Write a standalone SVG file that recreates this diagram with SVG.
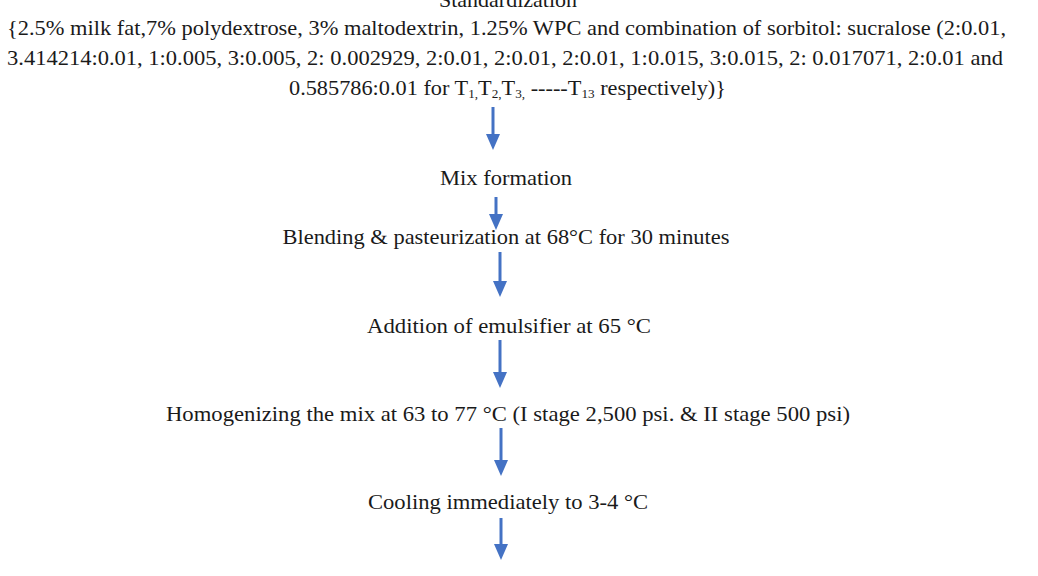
<svg xmlns="http://www.w3.org/2000/svg" width="1038" height="576" viewBox="0 0 1038 576">
<defs>
<style>
text{font-family:"Liberation Serif","Times New Roman",serif;font-size:22px;fill:#1a1a1a}
.sub{font-size:13px}
.ln{stroke:#4472C4;stroke-width:3;fill:none}
.hd{fill:#4472C4}
</style>
</defs>
<rect width="1038" height="576" fill="#ffffff"/>
<g id="standardization">
<text x="508" y="7" text-anchor="middle">Standardization</text>
<text x="7" y="35" textLength="999" lengthAdjust="spacingAndGlyphs">{2.5% milk fat,7% polydextrose, 3% maltodextrin, 1.25% WPC and combination of sorbitol: sucralose (2:0.01,</text>
<text x="7" y="65" textLength="996" lengthAdjust="spacingAndGlyphs">3.414214:0.01, 1:0.005, 3:0.005, 2: 0.002929, 2:0.01, 2:0.01, 2:0.01, 1:0.015, 3:0.015, 2: 0.017071, 2:0.01 and</text>
<text x="289" y="95" textLength="437" lengthAdjust="spacingAndGlyphs">0.585786:0.01 for T<tspan class="sub" dy="3">1,</tspan><tspan dy="-3">T</tspan><tspan class="sub" dy="3">2,</tspan><tspan dy="-3">T</tspan><tspan class="sub" dy="3">3,</tspan><tspan dy="-3"> -----T</tspan><tspan class="sub" dy="3">13</tspan><tspan dy="-3"> respectively)}</tspan></text>
</g>
<g id="mix">
<text x="506" y="185" text-anchor="middle" textLength="132" lengthAdjust="spacingAndGlyphs">Mix formation</text>
</g>
<g id="blending">
<text x="506" y="244" text-anchor="middle" textLength="447" lengthAdjust="spacingAndGlyphs">Blending &amp; pasteurization at 68°C for 30 minutes</text>
</g>
<g id="addition">
<text x="509" y="333" text-anchor="middle" textLength="284" lengthAdjust="spacingAndGlyphs">Addition of emulsifier at 65 °C</text>
</g>
<g id="homogenizing">
<text x="508" y="421" text-anchor="middle" textLength="684" lengthAdjust="spacingAndGlyphs">Homogenizing the mix at 63 to 77 °C (I stage 2,500 psi. &amp; II stage 500 psi)</text>
</g>
<g id="cooling">
<text x="508" y="509" text-anchor="middle" textLength="280" lengthAdjust="spacingAndGlyphs">Cooling immediately to 3-4 °C</text>
</g>
<g id="connectors">
<line class="ln" x1="493" y1="107" x2="493" y2="136"/><polygon class="hd" points="486,134 500,134 493,150"/>
<line class="ln" x1="496" y1="197" x2="496" y2="216"/><polygon class="hd" points="489,214 503,214 496,230"/>
<line class="ln" x1="500" y1="252" x2="500" y2="283"/><polygon class="hd" points="493,281 507,281 500,297"/>
<line class="ln" x1="500" y1="340" x2="500" y2="374"/><polygon class="hd" points="493,372 507,372 500,388"/>
<line class="ln" x1="501" y1="428" x2="501" y2="462"/><polygon class="hd" points="494,460 508,460 501,476"/>
<line class="ln" x1="501" y1="518" x2="501" y2="546"/><polygon class="hd" points="494,544 508,544 501,560"/>
</g>
</svg>
